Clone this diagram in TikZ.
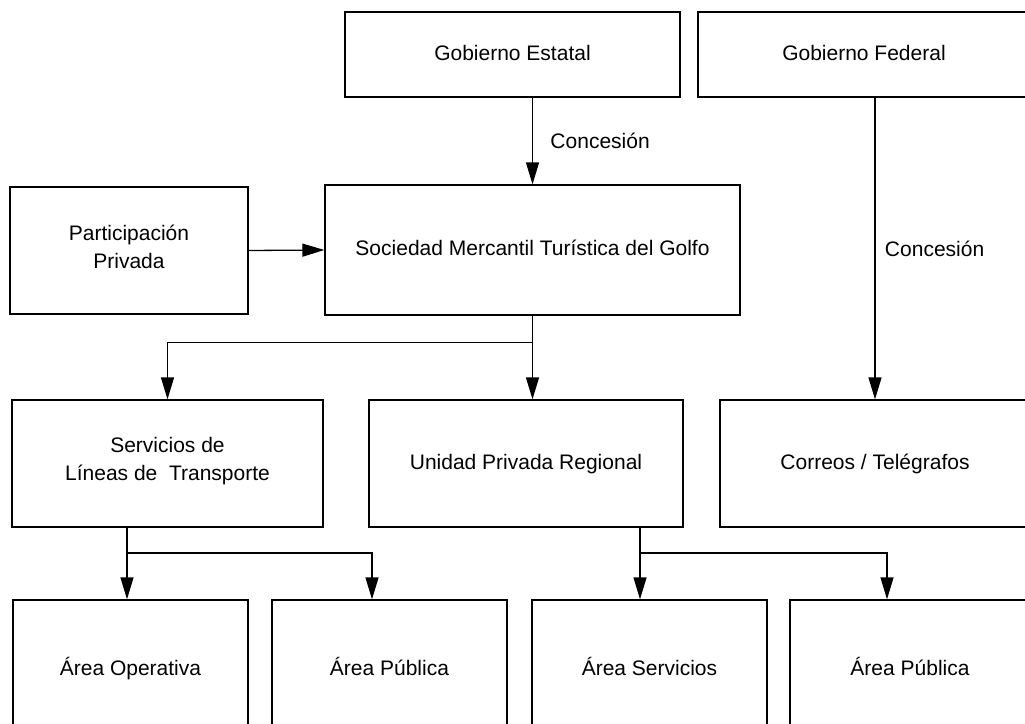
\documentclass[tikz,border=0pt]{standalone}
\usepackage{fontspec}
\setmainfont{Liberation Sans}
\usetikzlibrary{arrows.meta}

\begin{document}
\begin{tikzpicture}[x=1pt,y=-1pt,line width=1.3pt,
        caja/.style={draw,inner sep=0pt,align=center,
            font=\fontsize{21}{28}\selectfont,
            execute at begin node=\strut,execute at end node=\strut},
        flecha/.style={-{Triangle[length=22pt,width=13pt]}},
        texto/.style={font=\fontsize{21}{28}\selectfont}]
        \clip (0,0) rectangle (1025,723);

        % primera fila
        \node[caja,minimum width=335,minimum height=85] (estatal) at (512.5,54.5) {Gobierno Estatal};
        \node[caja,minimum width=332,minimum height=85] (federal) at (864,54.5) {Gobierno Federal};

        % segunda fila
        \node[caja,minimum width=238,minimum height=127] (privada) at (129,250.5) {Participación\\Privada};
        \node[caja,minimum width=415,minimum height=130] (sociedad) at (532.5,250) {Sociedad Mercantil Turística del Golfo};

        % tercera fila
        \node[caja,minimum width=311,minimum height=127] (servicios) at (167.5,463.5) {Servicios de\\Líneas de\ \ Transporte};
        \node[caja,minimum width=314,minimum height=127] (unidad) at (526,463.5) {Unidad Privada Regional};
        \node[caja,minimum width=310,minimum height=127] (correos) at (875,463.5) {Correos / Telégrafos};

        % cuarta fila
        \node[caja,minimum width=235,minimum height=140] (operativa) at (130.5,670) {Área Operativa};
        \node[caja,minimum width=235,minimum height=140] (publicaA) at (389.5,670) {Área Pública};
        \node[caja,minimum width=235,minimum height=140] (servarea) at (649.5,670) {Área Servicios};
        \node[caja,minimum width=240,minimum height=140] (publicaB) at (910,670) {Área Pública};

        \coordinate (nudoB) at (127,553);
        \coordinate (nudoC) at (640,553);

        \draw[flecha] (estatal.south -| sociedad.north) -- (sociedad.north)
            node[texto,midway,right=14pt] (concA) {Concesión};
        \draw[flecha] (federal.south -| correos.north) -- (correos.north)
            node[texto,midway,right=6pt] (concB) {Concesión};
        \draw[flecha] (privada.east) -- (sociedad.west);

        \draw[flecha] (sociedad.south) -- ++(0,27) -| (servicios.north);
        \draw[flecha] (sociedad.south) -- (sociedad.south |- unidad.north);

        \draw (servicios.south -| nudoB) -- (nudoB);
        \draw[flecha] (nudoB) -- (nudoB |- operativa.north);
        \draw[flecha] (nudoB) -| ([xshift=-17.5pt]publicaA.north);

        \draw (unidad.south -| nudoC) -- (nudoC);
        \draw[flecha] (nudoC) -- (nudoC |- servarea.north);
        \draw[flecha] (nudoC) -| ([xshift=-23pt]publicaB.north);
    \end{tikzpicture}
\end{document}
